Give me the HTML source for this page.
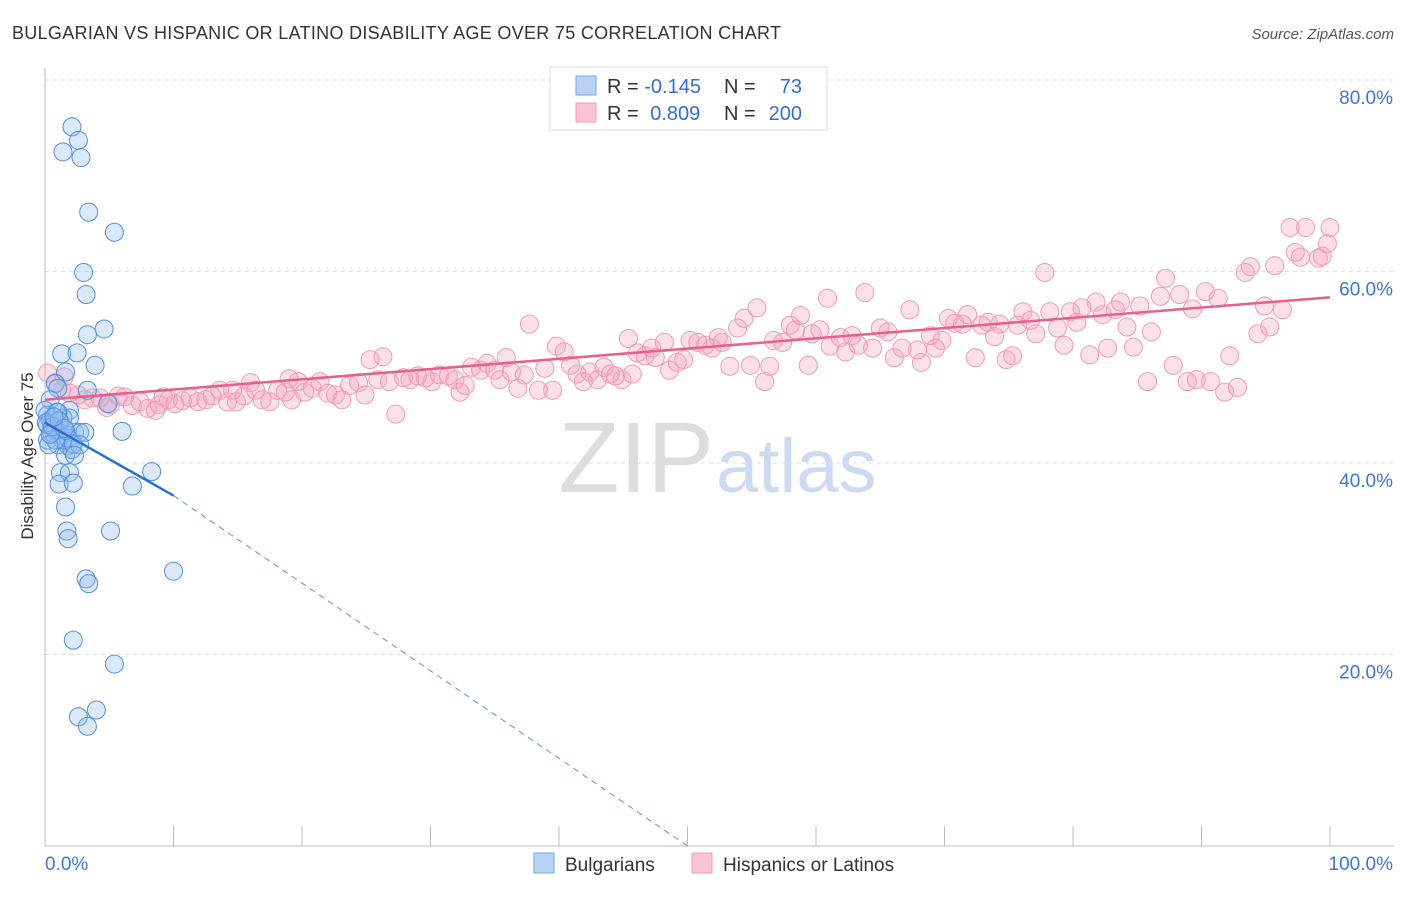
<!DOCTYPE html>
<html><head><meta charset="utf-8"><style>
body{margin:0;background:#fff;font-family:"Liberation Sans",sans-serif}
svg text{font-family:"Liberation Sans",sans-serif}
</style></head><body>
<svg id="c" width="1406" height="892">
<text x="12" y="39" font-size="18" fill="#333" textLength="769">BULGARIAN VS HISPANIC OR LATINO DISABILITY AGE OVER 75 CORRELATION CHART</text>
<text x="1394" y="39" font-size="15" fill="#555" font-style="italic" text-anchor="end">Source: ZipAtlas.com</text>
<text x="33" y="456" font-size="17" fill="#333" text-anchor="middle" transform="rotate(-90 33 456)">Disability Age Over 75</text>
<text x="714" y="492" font-size="100" fill="#ddd" text-anchor="end" font-family="Liberation Serif">ZIP</text>
<text x="716" y="492" font-size="76" fill="#c9daf2">atlas</text>
<g id="grid"></g><g id="marks"></g>
<g>
<rect x="550" y="67" width="277" height="63" fill="#fff" stroke="#ddd"/>
<rect x="576" y="76" width="20" height="19" fill="#b7d2f5" stroke="#7aa6e6"/>
<rect x="576" y="103" width="20" height="19" fill="#f9c5d4" stroke="#f09ab4"/>
<text x="607" y="93" font-size="20" fill="#333">R = <tspan fill="#2f6fd0">-0.145</tspan></text>
<text x="724" y="93" font-size="20" fill="#333">N =</text><text x="802" y="93" font-size="20" fill="#2f6fd0" text-anchor="end">73</text>
<text x="607" y="120" font-size="20" fill="#333">R = <tspan fill="#2f6fd0" dx="6">0.809</tspan></text>
<text x="724" y="120" font-size="20" fill="#333">N =</text><text x="802" y="120" font-size="20" fill="#2f6fd0" text-anchor="end">200</text>
</g>
<g>
<rect x="534" y="853" width="20" height="20" fill="#b7d2f5" stroke="#7aa6e6"/>
<text x="565" y="871" font-size="19" fill="#333">Bulgarians</text>
<rect x="692" y="853" width="20" height="20" fill="#f9c5d4" stroke="#f09ab4"/>
<text x="723" y="871" font-size="19" fill="#333">Hispanics or Latinos</text>
</g>
</svg>
<script>
const yTicks=[20,40,60,80];
const xTickLabels=["0.0%","100.0%"];
const blueX=[2.1,2.6,1.4,2.8,3.4,5.4,3.0,3.2,4.6,3.3,1.3,2.5,3.9,1.6,0.8,1.0,3.3,4.9,0.4,1.9,6.0,1.8,8.3,1.2,1.9,6.8,1.1,2.2,1.6,1.7,1.8,5.1,10.0,3.2,3.4,2.2,5.4,4.0,2.6,3.3,0.2,0.4,0.5,0.8,1.2,0.2,1.0,1.6,2.1,2.3,2.7,3.1,1.4,0.9,0,1.9,0.5,0.2,1.0,1.4,1.8,2.2,2.7,0.8,0.3,1.6,2.3,0.1,0.6,1.1,1.5,0.4,0.7];
const blueY=[75.1,73.7,72.5,71.9,66.2,64.1,59.9,57.6,54.0,53.4,51.4,51.5,50.2,49.5,48.3,47.8,47.6,46.2,46.6,45.5,43.3,41.8,39.1,39.0,39.0,37.6,37.8,37.9,35.4,32.9,32.1,32.9,28.7,27.9,27.4,21.5,19.0,14.2,13.5,12.5,45.0,44.5,44.0,43.4,42.9,42.4,41.9,40.8,41.4,43.2,43.2,43.2,44.7,45.3,45.5,44.7,43.2,44.0,45.3,42.4,42.6,42.0,41.9,42.4,41.9,43.4,40.8,44.2,43.8,44.4,43.6,43.0,44.8];
const pinkX=[0.2,0.8,1.3,1.9,2.6,3.1,3.7,4.3,5.1,5.7,6.2,6.8,7.4,8.0,8.6,8.9,9.6,10.1,10.7,11.3,11.9,12.5,13.0,13.6,14.2,14.9,15.5,16.0,16.4,16.9,17.5,18.1,18.7,19.2,19.7,20.2,20.8,21.4,22.0,22.6,23.1,23.7,24.4,24.9,25.3,25.9,26.3,26.8,27.3,27.9,28.4,29.0,29.6,30.1,30.7,31.4,31.9,32.3,32.7,33.2,33.9,34.4,35.0,35.4,35.9,36.3,36.8,37.3,37.7,38.4,38.9,39.5,39.8,40.4,40.9,41.4,41.9,42.4,43.0,43.5,44.0,44.4,44.9,45.4,45.7,46.1,46.7,47.2,47.5,48.2,48.6,49.2,49.7,50.2,50.8,51.4,51.9,52.4,52.7,53.3,53.9,54.4,54.9,55.4,56.0,56.4,56.7,57.4,58.0,58.4,58.8,59.4,59.7,60.3,60.9,61.1,61.9,62.3,62.8,63.3,63.8,64.4,65.0,65.6,66.1,66.7,67.3,67.9,68.2,68.9,69.3,69.8,70.3,70.8,71.4,71.8,72.4,72.9,73.4,73.9,74.3,74.8,75.3,75.7,76.1,76.7,77.1,77.8,78.2,78.8,79.3,79.8,80.3,80.7,81.3,81.8,82.3,82.7,83.3,83.7,84.2,84.7,85.2,85.8,86.1,86.8,87.2,87.8,88.3,88.9,89.3,89.6,90.3,90.7,91.3,91.8,92.2,92.8,93.4,93.8,94.4,94.9,95.3,95.7,96.3,96.9,97.3,97.7,98.1,99.1,99.4,99.8,100,1.5,4.8,9.2,14.6,19.0];
const pinkY=[49.4,48.4,47.6,47.3,47.1,46.6,46.8,46.8,46.1,47.0,46.9,46.0,46.4,45.7,45.5,46.1,46.6,46.2,46.5,46.8,46.4,46.6,47.0,47.6,46.4,46.4,47.0,48.4,47.6,46.6,46.4,47.6,47.4,46.6,48.5,47.4,47.8,48.5,47.3,47.1,46.6,48.1,48.4,47.1,50.8,48.7,51.1,48.5,45.1,48.9,48.7,49.1,48.9,48.5,49.2,49.1,48.7,47.4,48.1,50.0,49.7,50.4,49.7,48.7,51.0,49.5,47.8,49.2,54.5,47.6,49.9,47.6,52.2,51.6,50.2,49.3,48.5,49.5,48.7,50.0,49.3,49.1,48.7,53.0,49.3,51.5,51.2,52.0,51.0,52.6,49.7,50.5,50.8,52.8,52.6,52.3,52.0,53.1,52.6,50.1,54.1,55.1,50.2,56.2,48.5,50.1,52.8,52.6,54.4,53.9,55.4,50.2,53.5,53.9,57.2,52.2,53.1,51.6,53.3,52.3,57.8,52.0,54.1,53.7,51.0,52.0,56.0,51.8,50.5,53.3,52.0,52.8,55.1,54.6,54.5,55.5,51.0,54.4,54.7,53.2,54.5,50.8,51.2,54.4,55.8,54.9,53.5,59.9,55.8,54.1,52.3,55.8,54.7,56.2,51.3,56.8,55.5,52.0,56.0,56.8,54.2,52.1,56.4,48.5,53.7,57.4,59.3,50.2,57.6,48.5,56.1,48.7,57.9,48.5,57.2,47.4,51.2,47.9,59.9,60.5,53.5,56.4,54.2,60.6,56.0,64.6,62.0,61.5,64.6,61.4,61.6,62.9,64.6,49.0,45.8,46.9,47.6,48.8];
const X0=45,X1=1330,Y0=846,YP=9.575;
function sx(v){return X0+(X1-X0)*v/100}
function sy(v){return Y0-v*YP}
const NS="http://www.w3.org/2000/svg";
function mk(tag,attrs,parent){const e=document.createElementNS(NS,tag);for(const k in attrs)e.setAttribute(k,attrs[k]);parent.appendChild(e);return e;}
const grid=document.getElementById('grid'),marks=document.getElementById('marks');
yTicks.forEach(t=>{
 const l=mk('line',{x1:45,x2:1394,y1:sy(t),y2:sy(t),stroke:'#ddd','stroke-dasharray':'4,4'},grid);
 
 
 const tx=mk('text',{x:1393,y:sy(t)+24,'font-size':19,fill:'#3a78d6','text-anchor':'end'},grid);
 tx.textContent=t.toFixed(1)+'%';
 
 
});
let ax=mk('line',{x1:45,x2:45,y1:68,y2:846,stroke:'#bbb'},grid);


ax=mk('line',{x1:45,x2:1394,y1:846,y2:846,stroke:'#bbb'},grid);


for(let i=0;i<=10;i++){const t=mk('line',{x1:sx(i*10),x2:sx(i*10),y1:826,y2:846,stroke:'#bbb'},grid);
 
 }
let xl=mk('text',{x:45,y:870,'font-size':19,fill:'#3a78d6'},grid);xl.textContent=xTickLabels[0];


xl=mk('text',{x:1393,y:870,'font-size':19,fill:'#3a78d6','text-anchor':'end'},grid);xl.textContent=xTickLabels[1];


pinkX.forEach((x,i)=>{const c=mk('circle',{cx:sx(x),cy:sy(pinkY[i]),r:9,fill:'rgba(244,160,186,0.33)',stroke:'#f09ab4','stroke-width':1},marks);
 
 });
blueX.forEach((x,i)=>{const c=mk('circle',{cx:sx(x),cy:sy(blueY[i]),r:9,fill:'rgba(150,190,240,0.35)',stroke:'#4f8fe0','stroke-width':1},marks);
 
 });
let l=mk('line',{x1:sx(0),y1:sy(46.6),x2:sx(100),y2:sy(57.3),stroke:'#e8608a','stroke-width':2.5},marks);


l=mk('line',{x1:sx(0),y1:sy(44.2),x2:sx(10),y2:sy(36.6),stroke:'#2a6fd6','stroke-width':2.5},marks);


l=mk('line',{x1:sx(10),y1:sy(36.6),x2:sx(50),y2:sy(0),stroke:'#5a90dc','stroke-width':1,'stroke-dasharray':'6,5'},marks);


</script>
</body></html>
